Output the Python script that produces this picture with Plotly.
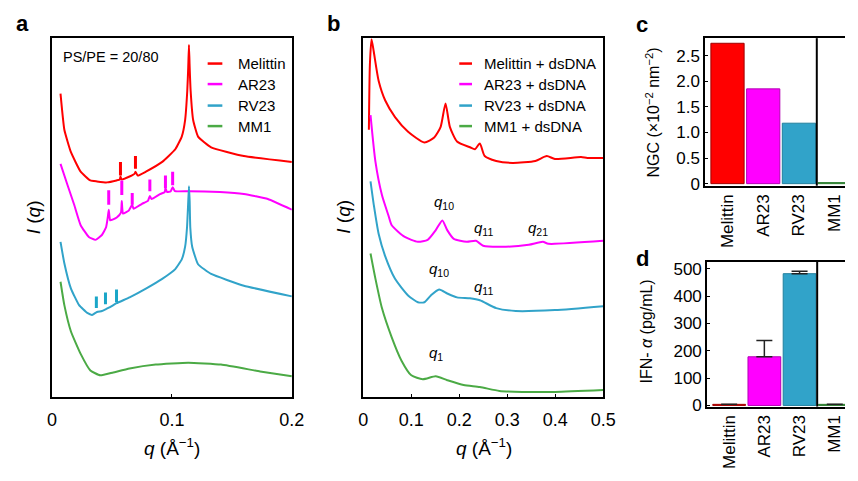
import plotly.graph_objects as go

# ---------------- Panel a: SAXS of PS/PE = 20/80 membranes (curves offset, a.u.) -------------
a_mel_q = [0.0071, 0.0103, 0.0158, 0.0239, 0.032, 0.0375, 0.0457, 0.0538, 0.0565, 0.0571, 0.0580,
           0.0647, 0.0690, 0.0696, 0.0715, 0.0783, 0.0919, 0.1028, 0.1082, 0.111, 0.1128, 0.1136,
           0.1142, 0.1148, 0.1156, 0.1177, 0.1218, 0.1327, 0.16, 0.2]
a_mel_I = [311, 274, 251, 231, 222, 221, 220, 222, 223, 226, 223,
           226, 229, 231, 227, 231, 241, 254, 267, 284, 314, 338,
           361, 338, 314, 284, 267, 256, 247, 241]

a_ar_q = [0.0071, 0.013, 0.0185, 0.0239, 0.0307, 0.0362, 0.0416, 0.0451, 0.0465, 0.0473, 0.0485,
          0.051, 0.054, 0.0575, 0.0582, 0.0592, 0.064, 0.0669, 0.068, 0.075, 0.080, 0.0816, 0.083,
          0.090, 0.094, 0.0946, 0.096, 0.099, 0.1006, 0.1025, 0.1142, 0.14, 0.16, 0.18, 0.2]
a_ar_I = [239, 217, 197, 176, 164, 161, 166, 174, 184, 192, 181,
          182, 184, 189, 201, 188, 191, 197, 193, 198, 201, 206, 203,
          208, 210, 214, 210, 211, 215, 211, 211, 210, 208, 203, 192]

a_rv_q = [0.0071, 0.0103, 0.0158, 0.0226, 0.0294, 0.0334, 0.0375, 0.0416, 0.0451, 0.0484, 0.0538,
          0.0647, 0.0783, 0.0919, 0.1028, 0.1082, 0.111, 0.1126, 0.1136, 0.1142, 0.1148, 0.1153,
          0.1169, 0.1218, 0.1327, 0.16, 0.2]
a_rv_I = [159, 137, 111, 94, 86, 84, 87, 88, 90, 92, 96,
          102, 111, 121, 131, 141, 154, 174, 200, 216, 200, 174,
          154, 136, 126, 114, 103]

a_mm_q = [0.0071, 0.0103, 0.0158, 0.0239, 0.032, 0.0402, 0.0511, 0.0647, 0.0865, 0.1136, 0.1409,
          0.1735, 0.2]
a_mm_I = [118, 94, 67, 44, 27, 22, 25, 29, 33, 35, 33, 26, 21]

# short vertical marks indexing the Bragg reflections (q, I_low, I_high)
a_mel_mark_q = [0.0571, 0.0696]
a_mel_mark_lo = [227, 234]
a_mel_mark_hi = [241, 247]
a_ar_mark_q = [0.0473, 0.0582, 0.0669, 0.0816, 0.0946, 0.1006]
a_ar_mark_lo = [197, 207, 197, 211, 214, 217]
a_ar_mark_hi = [212, 222, 209, 223, 227, 231]
a_rv_mark_q = [0.037, 0.0446, 0.0538]
a_rv_mark_lo = [91, 95, 97]
a_rv_mark_hi = [103, 107, 110]

# ---------------- Panel b: with dsDNA --------------------------------------------------------
b_mel_q = [0.0116, 0.0137, 0.0171, 0.0218, 0.032, 0.0457, 0.0661, 0.0933, 0.1273, 0.1478, 0.1612,
           0.1714, 0.1804, 0.1953, 0.2224, 0.2327, 0.2429, 0.253, 0.277, 0.311, 0.3586, 0.3824,
           0.3994, 0.4539, 0.467, 0.5]
b_mel_I = [274, 341, 367, 354, 324, 304, 287, 272, 261, 266, 277,
           301, 277, 262, 256, 254, 260, 247, 242, 240, 242, 247,
           244, 246, 245, 245]

b_ar_q = [0.015, 0.0253, 0.0388, 0.0524, 0.0592, 0.0865, 0.1137, 0.1341, 0.151, 0.1647, 0.1749,
          0.1886, 0.2157, 0.2347, 0.2498, 0.2973, 0.3449, 0.3743, 0.3857, 0.5]
b_ar_I = [289, 241, 207, 186, 176, 164, 159, 161, 171, 181, 171,
          162, 159, 160, 155, 154, 156, 159, 157, 160]

b_rv_q = [0.015, 0.0218, 0.032, 0.0457, 0.0661, 0.0933, 0.1137, 0.1273, 0.1408, 0.158, 0.1749,
          0.1953, 0.2224, 0.2429, 0.277, 0.3178, 0.3994, 0.5]
b_rv_I = [221, 197, 167, 144, 121, 104, 97, 97, 104, 110, 106,
          102, 101, 99, 91, 88, 89, 93]

b_mm_q = [0.015, 0.0253, 0.0388, 0.0592, 0.0796, 0.1, 0.1239, 0.151, 0.1749, 0.209, 0.2429,
          0.2837, 0.3314, 0.3994, 0.5]
b_mm_I = [147, 121, 91, 61, 37, 22, 18, 21, 17, 12, 10, 6, 5, 5, 7]

# peak labels in panel b (text, q, I)
b_peak_text = ["q10", "q11", "q21", "q10", "q11", "q1"]
b_peak_q = [0.1682, 0.2498, 0.365, 0.158, 0.2498, 0.151]
b_peak_I = [199, 173, 173, 131, 112, 44]

# ---------------- Panels c, d: bars -----------------------------------------------------------
peptides = ["Melittin", "AR23", "RV23", "MM1"]
ngc = [2.74, 1.85, 1.18, 0.02]
ifn = [4, 178, 482, 4]
ifn_err = [0, 60, 9, 0]

colors = ["#FF0000", "#FF00FF", "#31A3C9", "#4BAA45"]
edge_colors = ["#A00000", "#B400B4", "#23809F", "#2E7D32"]
legend_a = ["Melittin", "AR23", "RV23", "MM1"]
legend_b = ["Melittin + dsDNA", "AR23 + dsDNA", "RV23 + dsDNA", "MM1 + dsDNA"]

FONT = "Liberation Sans, Arial, Helvetica, sans-serif"
W, H = 858, 481

fig = go.Figure()


def marks(qs, lo, hi):
    xs, ys = [], []
    for q, y0, y1 in zip(qs, lo, hi):
        xs += [q, q, None]
        ys += [y0, y1, None]
    return xs, ys


curves_a = [(a_mel_q, a_mel_I), (a_ar_q, a_ar_I), (a_rv_q, a_rv_I), (a_mm_q, a_mm_I)]
for (q, I), c, name in zip(curves_a, colors, legend_a):
    fig.add_trace(go.Scatter(x=q, y=I, mode="lines", line=dict(color=c, width=2, shape="spline", smoothing=0.4),
                             name=name, showlegend=False, xaxis="x", yaxis="y"))
for (mq, lo, hi), c in zip([(a_mel_mark_q, a_mel_mark_lo, a_mel_mark_hi),
                            (a_ar_mark_q, a_ar_mark_lo, a_ar_mark_hi),
                            (a_rv_mark_q, a_rv_mark_lo, a_rv_mark_hi)], colors[:2] + ["#1AA6C8"]):
    xs, ys = marks(mq, lo, hi)
    fig.add_trace(go.Scatter(x=xs, y=ys, mode="lines", line=dict(color=c, width=3),
                             showlegend=False, hoverinfo="skip", xaxis="x", yaxis="y"))

curves_b = [(b_mel_q, b_mel_I), (b_ar_q, b_ar_I), (b_rv_q, b_rv_I), (b_mm_q, b_mm_I)]
for (q, I), c, name in zip(curves_b, colors, legend_b):
    fig.add_trace(go.Scatter(x=q, y=I, mode="lines", line=dict(color=c, width=2, shape="spline", smoothing=0.6),
                             name=name, showlegend=False, xaxis="x2", yaxis="y2"))

fig.add_trace(go.Bar(x=peptides, y=ngc, marker=dict(color=colors, line=dict(color=edge_colors, width=1)),
                     width=0.93, showlegend=False, xaxis="x3", yaxis="y3"))
fig.add_trace(go.Bar(x=peptides, y=ifn, marker=dict(color=colors, line=dict(color=edge_colors, width=1)),
                     width=0.93, showlegend=False, xaxis="x4", yaxis="y4",
                     error_y=dict(type="data", array=ifn_err, arrayminus=[0] * 4, symmetric=False,
                                  color="#222222", thickness=1.5, width=8)))


def px(x):
    return x / W


def py(y):
    return 1 - y / H


ydom_ab = [py(404), py(37)]
line_ax = dict(showline=True, linecolor="black", linewidth=1.5, mirror=True, showgrid=False, zeroline=False)
fig.update_layout(
    width=W, height=H, autosize=False, margin=dict(l=0, r=0, t=0, b=0),
    paper_bgcolor="white", plot_bgcolor="white",
    font=dict(family=FONT, color="black"),
    bargap=0.07,
    xaxis=dict(domain=[px(48), px(293)], range=[0, 0.2], tickvals=[0, 0.1, 0.2], ticktext=["0", "0.1", "0.2"],
               ticks="inside", ticklen=3, tickcolor="black", tickfont=dict(size=18), ticklabelstandoff=6,
               anchor="y", **line_ax),
    yaxis=dict(domain=ydom_ab, range=[0, 368], showticklabels=False, ticks="", anchor="x", **line_ax),
    xaxis2=dict(domain=[px(366), px(611)], range=[0, 0.5], tickvals=[0, 0.1, 0.2, 0.3, 0.4, 0.5],
                ticktext=["0", "0.1", "0.2", "0.3", "0.4", "0.5"],
                ticks="inside", ticklen=3, tickcolor="black", tickfont=dict(size=18), ticklabelstandoff=6,
                anchor="y2", **line_ax),
    yaxis2=dict(domain=ydom_ab, range=[0, 368], showticklabels=False, ticks="", anchor="x2", **line_ax),
    xaxis3=dict(domain=[px(715), 1.0], range=[-0.63, 3.29], tickangle=-90, tickfont=dict(size=17),
                ticks="", showline=True, linecolor="black", linewidth=1.5, mirror=True, showgrid=False,
                zeroline=False, anchor="y3"),
    yaxis3=dict(domain=[py(188), py(37)], range=[-0.04, 2.84], tickvals=[0, 0.5, 1.0, 1.5, 2.0, 2.5],
                ticktext=["0", "0.5", "1.0", "1.5", "2.0", "2.5"], tickfont=dict(size=17),
                ticks="inside", ticklen=3, tickcolor="black",
                showline=True, linecolor="black", linewidth=1.5, mirror=False, showgrid=False,
                zeroline=False, anchor="x3"),
    xaxis4=dict(domain=[px(717), 1.0], range=[-0.63, 3.29], tickangle=-90, tickfont=dict(size=17),
                ticks="", showline=True, linecolor="black", linewidth=1.5, mirror=True, showgrid=False,
                zeroline=False, anchor="y4"),
    yaxis4=dict(domain=[py(414), py(266)], range=[-4, 525], tickvals=[0, 100, 200, 300, 400, 500],
                tickfont=dict(size=17), ticks="inside", ticklen=3, tickcolor="black",
                showline=True, linecolor="black", linewidth=1.5, mirror=False, showgrid=False,
                zeroline=False, anchor="x4"),
)

shapes = []
for xr, yr in [("x3", "y3 domain"), ("x4", "y4 domain")]:
    shapes.append(dict(type="line", xref=xr, yref=yr, x0=2.5, x1=2.5, y0=0, y1=1,
                       line=dict(color="black", width=2)))

annotations = []
rows = [63, 84, 106, 127]
for names, lx0, lx1, tx in [(legend_a, 207, 222, 236), (legend_b, 464, 477, 487)]:
    for name, c, ry in zip(names, colors, rows):
        shapes.append(dict(type="line", xref="paper", yref="paper", x0=px(lx0), x1=px(lx1), y0=py(ry), y1=py(ry),
                           line=dict(color=c, width=2.5)))
        annotations.append(dict(text=name, xref="paper", yref="paper", x=px(tx), y=py(ry), xanchor="left",
                                yanchor="middle", showarrow=False, font=dict(size=15)))

annotations.append(dict(text="PS/PE = 20/80", xref="paper", yref="paper", x=px(57), y=py(56), xanchor="left",
                        yanchor="middle", showarrow=False, font=dict(size=14.5)))

for t, q, I in zip(b_peak_text, b_peak_q, b_peak_I):
    annotations.append(dict(text="<i>q</i><sub>%s</sub>" % t[1:], xref="x2", yref="y2", x=q, y=I,
                            xanchor="center", yanchor="middle", showarrow=False, font=dict(size=15)))

for lab, x, y in [("a", 18, 22), ("b", 336, 22), ("c", 651, 23), ("d", 651, 263)]:
    annotations.append(dict(text="<b>%s</b>" % lab, xref="paper", yref="paper", x=px(x), y=py(y),
                            xanchor="center", yanchor="middle", showarrow=False, font=dict(size=22)))

for x in [30, 346]:
    annotations.append(dict(text="<i>I</i> (<i>q</i>)", xref="paper", yref="paper", x=px(x), y=py(220),
                            textangle=-90, xanchor="center", yanchor="middle", showarrow=False,
                            font=dict(size=19)))
for x in [171, 489]:
    annotations.append(dict(text="<i>q</i> (Å<sup>−1</sup>)", xref="paper", yref="paper", x=px(x), y=py(455),
                            xanchor="center", yanchor="middle", showarrow=False, font=dict(size=19)))

annotations.append(dict(text="NGC (×10<sup>−2</sup> nm<sup>−2</sup>)", xref="paper", yref="paper",
                        x=px(662), y=py(113), textangle=-90, xanchor="center", yanchor="middle",
                        showarrow=False, font=dict(size=16)))
annotations.append(dict(text="IFN- <i>α</i> (pg/mL)", xref="paper", yref="paper",
                        x=px(655), y=py(337), textangle=-90, xanchor="center", yanchor="middle",
                        showarrow=False, font=dict(size=16)))

fig.update_layout(shapes=shapes, annotations=annotations)
fig.write_html("out.html", config={"responsive": False, "displayModeBar": False},
               post_script="document.body.style.margin='0px';")
